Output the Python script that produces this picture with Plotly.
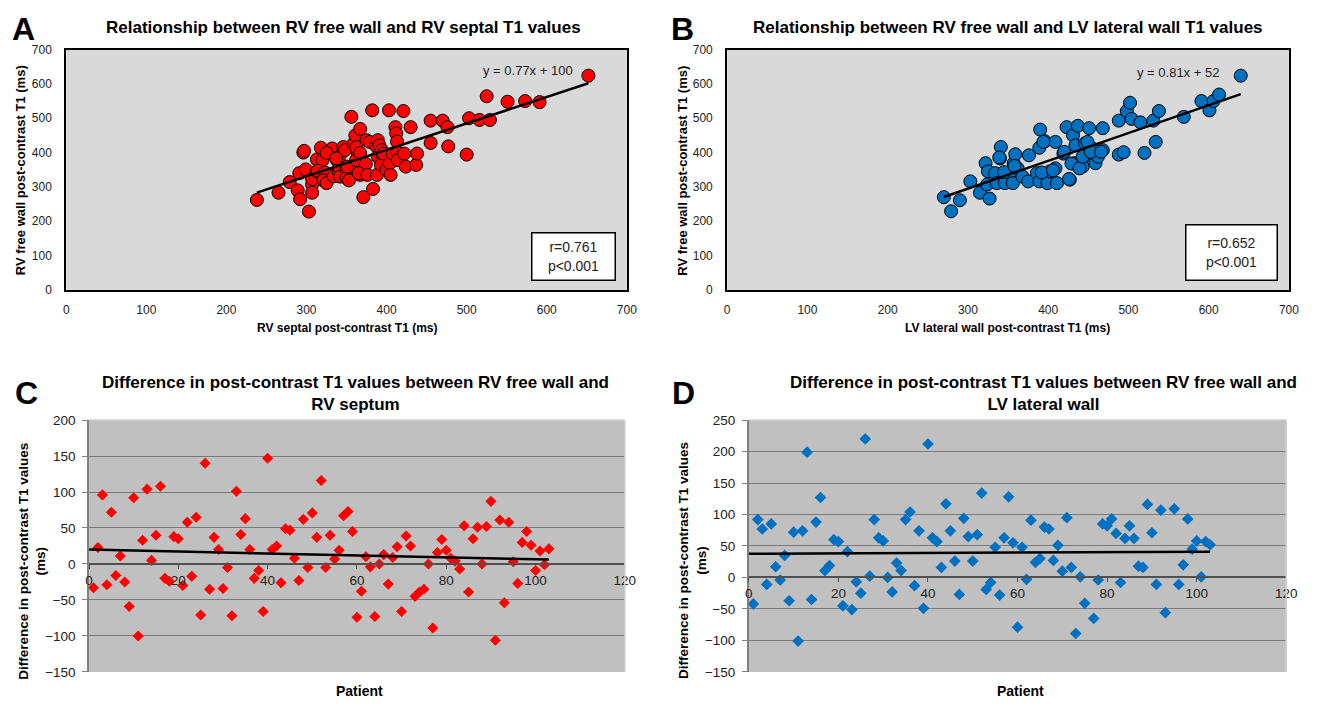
import plotly.graph_objects as go

# ---------------- data ----------------
# Panel A: RV septal (x) vs RV free wall (y) post-contrast T1 (ms)
septal_t1 = [238, 265, 279, 289, 292, 291, 296, 297, 299, 303,
             307, 307, 307, 313, 313, 318, 320, 314, 323, 321,
             325, 332, 334, 338, 340, 341, 341, 342, 346, 348,
             350, 350, 353, 351, 356, 359, 361, 364, 367, 362,
             362, 367, 367, 371, 374, 365, 375, 379, 382, 383,
             376, 387, 389, 388, 389, 391, 395, 393, 394, 396,
             400, 403, 404, 405, 408, 411, 412, 413, 414, 414,
             421, 422, 424, 430, 437, 438, 455, 455, 470, 476,
             477, 500, 503, 516, 525, 529, 551, 573, 591, 652,
             325, 337]
freewall_a = [262, 283, 314, 290, 264, 340, 400, 405, 351, 228,
              307, 283, 323, 345, 380, 414, 378, 347, 342, 319,
              311, 412, 331, 378, 345, 388, 357, 330, 416, 407,
              351, 326, 319, 359, 504, 426, 450, 397, 469, 416,
              378, 399, 335, 270, 367, 340, 436, 431, 523, 294,
              335, 419, 436, 335, 388, 421, 392, 364, 407, 397,
              350, 523, 369, 335, 397, 474, 456, 432, 399, 378,
              521, 397, 359, 474, 364, 397, 493, 428, 493, 474,
              418, 394, 500, 495, 564, 495, 548, 550, 547, 624,
              399, 383]
trend_a = (0.77, 100)   # y = 0.77x + 100
stats_a = "r=0.761<br>p&lt;0.001"

# Panel B: LV lateral wall (x) vs RV free wall (y)
lateral_t1 = [270, 279, 290, 303, 315, 322, 325, 327, 324, 334,
              336, 341, 340, 346, 352, 356, 357, 359, 362, 368,
              375, 376, 386, 389, 390, 389, 396, 399, 402, 409,
              409, 411, 423, 419, 427, 431, 433, 437, 434, 443,
              446, 451, 451, 455, 459, 462, 468, 468, 488, 488,
              494, 498, 502, 504, 515, 520, 531, 534, 538, 569,
              591, 601, 606, 613, 640,
              392, 406, 426, 429, 439, 443, 449, 453, 466, 420,
              394, 345, 339, 358]
freewall_b = [270, 229, 261, 316, 283, 369, 345, 266, 307, 340,
              311, 416, 383, 311, 340, 311, 369, 395, 354, 330,
              316, 392, 340, 316, 467, 414, 433, 311, 345, 354,
              431, 311, 474, 397, 321, 450, 369, 478, 421, 359,
              427, 471, 393, 412, 369, 388, 471, 407, 493, 394,
              401, 521, 545, 498, 488, 399, 493, 431, 521, 504,
              550, 523, 550, 569, 624,
              342, 348, 323, 368, 354, 388, 431, 402, 402, 402,
              431, 343, 386, 361]
trend_b = (0.81, 52)    # y = 0.81x + 52
stats_b = "r=0.652<br>p&lt;0.001"

# Panel C: difference RV free wall - RV septum, per patient
patients_c = list(range(1, 104))
diff_c = [-33, 23, 96, -29, 72, -16, 11, -25, -59, 92,
          -100, 33, 104, 5, 40, 108, -20, -24, 38, 35,
          -30, 58, -17, 65, -71, 140, -35, 37, 20, -34,
          -5, -72, 101, 41, 63, 20, -20, -9, -66, 147,
          20, 25, -26, 49, 47, 8, -23, 62, -5, 71,
          37, 116, -5, 40, 7, 19, 67, 73, 45, -74,
          -38, 10, -4, -73, 0, 13, -28, 9, 24, -66,
          39, 25, -45, -39, -35, 0, -89, 16, 34, 19,
          8, 4, -7, 53, -39, 35, 51, 0, 52, 87,
          -106, 61, -54, 58, 3, -27, 30, 45, 26, -9,
          18, -1, 21]
trend_c = (-0.135, 20)  # slope, intercept

# Panel D: difference RV free wall - LV lateral wall, per patient
patients_d = [p for p in range(1, 104) if p not in (76, 94)]
diff_d = [-42, 92, 77, -11, 85, 17, -4, 35, -37, 72,
          -101, 74, 199, -35, 88, 127, 11, 19, 60, 57,
          -45, 41, -51, -7, -25, 220, 2, 92, 63, 58,
          0, -23, 23, 11, 92, 104, -13, 74, -49, 212,
          63, 57, 16, 117, 74, 26, -27, 94, 65, 26,
          68, 134, -19, -8, 48, -28, 63, 128, 55, -79,
          48, -3, 91, 24, 30, 80, 77, 27, 51, 10,
          95, 16, -89, 1, -41,
          -65, -4, 85, 82,
          93, 70, -8, 62, 82, 62, 18, 16, 116, 71,
          -11, 107, -56,
          109, -11, 20, 93, 45, 58, 1, 57, 52]
trend_d = (0.034, 37.5)

# ---------------- layout helpers ----------------
W, H = 1319, 708
def fx(px): return px / W
def fy(py): return 1 - py / H

FONT = "Liberation Sans, Arial, sans-serif"

fig = go.Figure()

fig.add_trace(go.Scatter(x=septal_t1, y=freewall_a, mode="markers", xaxis="x", yaxis="y",
                         marker=dict(symbol="circle", size=13, color="#ff0000",
                                     line=dict(color="black", width=1))))
xa = [min(septal_t1), max(septal_t1)]
fig.add_trace(go.Scatter(x=xa, y=[trend_a[0] * v + trend_a[1] for v in xa], mode="lines",
                         xaxis="x", yaxis="y", line=dict(color="black", width=2.5)))

fig.add_trace(go.Scatter(x=lateral_t1, y=freewall_b, mode="markers", xaxis="x2", yaxis="y2",
                         marker=dict(symbol="circle", size=13, color="#0070c0",
                                     line=dict(color="black", width=1))))
xb = [min(lateral_t1), max(lateral_t1)]
fig.add_trace(go.Scatter(x=xb, y=[trend_b[0] * v + trend_b[1] for v in xb], mode="lines",
                         xaxis="x2", yaxis="y2", line=dict(color="black", width=2.5)))

fig.add_trace(go.Scatter(x=patients_c, y=diff_c, mode="markers", xaxis="x3", yaxis="y3",
                         marker=dict(symbol="diamond", size=8.5, color="#ff0000")))
xc = [0, max(patients_c)]
fig.add_trace(go.Scatter(x=xc, y=[trend_c[0] * v + trend_c[1] for v in xc], mode="lines",
                         xaxis="x3", yaxis="y3", line=dict(color="black", width=2.5)))

fig.add_trace(go.Scatter(x=patients_d, y=diff_d, mode="markers", xaxis="x4", yaxis="y4",
                         marker=dict(symbol="diamond", size=9, color="#0070c0")))
xd = [0, max(patients_d)]
fig.add_trace(go.Scatter(x=xd, y=[trend_d[0] * v + trend_d[1] for v in xd], mode="lines",
                         xaxis="x4", yaxis="y4", line=dict(color="black", width=2.5)))

# domains (pixels)
A_X = (63, 630); B_X = (731.5, 1299.7); AB_Y = (43.5, 289)
C_X = (86, 628); D_X = (753.4, 1297); CD_Y = (422, 679.3)

tick_ab = dict(family=FONT, size=12, color="#222")
tick_cd = dict(family=FONT, size=13.5, color="#222")

def ab_axis(dom, **kw):
    return dict(domain=dom, range=[0, 700], dtick=100, showgrid=False, zeroline=False,
                showline=True, linecolor="black", linewidth=2, mirror=True,
                ticks="", tickfont=tick_ab, fixedrange=True, **kw)

yC_range = [-150, 200]
yD_range = [-150, 250]
ydomC = [fy(CD_Y[1]), fy(CD_Y[0])]
posC = ydomC[0] + (ydomC[1] - ydomC[0]) * (0 - yC_range[0]) / (yC_range[1] - yC_range[0])
posD = ydomC[0] + (ydomC[1] - ydomC[0]) * (0 - yD_range[0]) / (yD_range[1] - yD_range[0])

def cd_x(dom, pos):
    return dict(domain=dom, range=[0, 120], dtick=20, anchor="free", position=pos,
                showgrid=False, zeroline=False, showline=True, linecolor="#505050",
                linewidth=1.5, ticks="outside", ticklen=4, tickcolor="#505050",
                tickfont=tick_cd, fixedrange=True)

def cd_y(dom, rng, anchor):
    return dict(domain=dom, range=rng, dtick=50, anchor=anchor, showgrid=True,
                gridcolor="#7a7a7a", gridwidth=1.3, zeroline=False, showline=True,
                linecolor="#808080", linewidth=1.5, ticks="outside", ticklen=5,
                tickcolor="#808080", tickfont=tick_cd, ticklabelstandoff=4, fixedrange=True)

layout = dict(
    width=W, height=H, margin=dict(l=0, r=0, t=0, b=0),
    paper_bgcolor="white", plot_bgcolor="rgba(0,0,0,0)", showlegend=False,
    font=dict(family=FONT),
    xaxis=ab_axis([fx(A_X[0]), fx(A_X[1])], anchor="y", ticklabelstandoff=8),
    yaxis=ab_axis([fy(AB_Y[1]), fy(AB_Y[0])], anchor="x", ticklabelstandoff=10),
    xaxis2=ab_axis([fx(B_X[0]), fx(B_X[1])], anchor="y2", ticklabelstandoff=8),
    yaxis2=ab_axis([fy(AB_Y[1]), fy(AB_Y[0])], anchor="x2", ticklabelstandoff=10),
    xaxis3=cd_x([fx(C_X[0]), fx(C_X[1])], posC),
    yaxis3=cd_y(ydomC, yC_range, "x3"),
    xaxis4=cd_x([fx(D_X[0]), fx(D_X[1])], posD),
    yaxis4=cd_y(ydomC, yD_range, "x4"),
)
fig.update_layout(**layout)

shapes = []
for xr, yr, col in [("x", "y", "#d9d9d9"), ("x2", "y2", "#d9d9d9"),
                    ("x3", "y3", "#c0c0c0"), ("x4", "y4", "#c0c0c0")]:
    shapes.append(dict(type="rect", xref=f"{xr} domain", yref=f"{yr} domain",
                       x0=0, x1=1, y0=0, y1=1, fillcolor=col, line=dict(width=0),
                       layer="below"))
for xr, yr in [("x3", "y3"), ("x4", "y4")]:
    shapes.append(dict(type="line", xref=f"{xr} domain", yref=f"{yr} domain",
                       x0=0, x1=1, y0=1, y1=1, line=dict(color="#d0d0d0", width=1.5)))
    shapes.append(dict(type="line", xref=f"{xr} domain", yref=f"{yr} domain",
                       x0=1, x1=1, y0=0, y1=1, line=dict(color="#d0d0d0", width=1.5)))
fig.update_layout(shapes=shapes)

ann = []
def text(px, py, s, size, bold=False, angle=0, color="black", **kw):
    ann.append(dict(x=fx(px), y=fy(py), xref="paper", yref="paper", text=(f"<b>{s}</b>" if bold else s),
                    showarrow=False, xanchor="center", yanchor="middle", textangle=angle,
                    font=dict(family=FONT, size=size, color=color), **kw))

text(20, 22, "A", 32, bold=True)
text(686, 22, "B", 32, bold=True)
text(23, 394, "C", 32, bold=True)
text(687, 394, "D", 32, bold=True)
text(343, 21, "Relationship between RV free wall and RV septal T1 values", 17, bold=True)
text(1016, 21, "Relationship between RV free wall and LV lateral wall T1 values", 17, bold=True)
text(356, 395, "Difference in post-contrast T1 values between RV free wall and<br>RV septum", 17, bold=True)
text(1051, 395, "Difference in post-contrast T1 values between RV free wall and<br>LV lateral wall", 17, bold=True)
text(17, 167, "RV free wall post-contrast T1 (ms)", 13, bold=True, angle=-90)
text(686, 167, "RV free wall post-contrast T1 (ms)", 13, bold=True, angle=-90)
text(347, 328, "RV septal post-contrast T1 (ms)", 12, bold=True)
text(1015, 328, "LV lateral wall post-contrast T1 (ms)", 12, bold=True)
text(28, 566, "Difference in post-contrast T1 values<br>(ms)", 13.5, bold=True, angle=-90)
text(696, 566, "Difference in post-contrast T1 values<br>(ms)", 13.5, bold=True, angle=-90)
text(360, 699, "Patient", 14, bold=True)
text(1028, 699, "Patient", 14, bold=True)
text(530, 65, f"y = {trend_a[0]}x + {trend_a[1]}", 13, color="#222")
text(1187, 67, f"y = {trend_b[0]}x + {trend_b[1]}", 13, color="#222")
text(576.5, 254.5, stats_a, 14, color="#222", bgcolor="white", bordercolor="black",
     borderwidth=1.5, width=80, height=44, borderpad=1)
text(1241.5, 250.5, stats_b, 14, color="#222", bgcolor="white", bordercolor="black",
     borderwidth=1.5, width=88, height=52, borderpad=1)
fig.update_layout(annotations=ann)

fig.write_html("out.html", config={"displayModeBar": False},
               post_script="document.body.style.margin='0';document.body.style.overflow='hidden';")
